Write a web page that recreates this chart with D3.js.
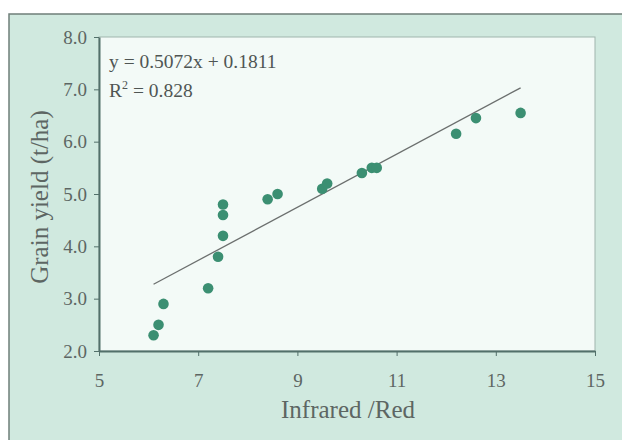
<!DOCTYPE html>
<html>
<head>
<meta charset="utf-8">
<style>
  body { margin: 0; background: #fff; }
  svg { display: block; }
  .tick text { font-family: "Liberation Serif", "DejaVu Serif", serif; fill: #5d6663; }
  .axis path, .axis line { stroke: #52706a; }
</style>
</head>
<body>
<svg width="622" height="440"></svg>
<script src="https://cdn.jsdelivr.net/npm/d3@7"></script>
<script>
// ratio values and grain yield
var ratio = [6.1, 6.2, 6.3, 7.2, 7.4, 7.5, 7.5, 7.5, 8.4, 8.6, 9.5, 9.6, 10.3, 10.5, 10.6, 12.2, 12.6, 13.5];
var yieldT = [2.3, 2.5, 2.9, 3.2, 3.8, 4.2, 4.6, 4.8, 4.9, 5.0, 5.1, 5.2, 5.4, 5.5, 5.5, 6.15, 6.45, 6.55];
var xTicks = [5, 7, 9, 11, 13, 15];
var yTicks = [2, 3, 4, 5, 6, 7, 8];
var slope = 0.5072, intercept = 0.1811;
var fitRange = [6.1, 13.5];

var margin = {top: 37, right: 27, bottom: 89, left: 99},
    width = 622 - margin.left - margin.right,
    height = 440 - margin.top - margin.bottom;

var svg = d3.select("svg");

// outer frame, runs off the right and bottom edges
svg.append("rect")
    .attr("x", 9).attr("y", 14)
    .attr("width", 640).attr("height", 460)
    .attr("fill", "#d0e9df")
    .attr("stroke", "#6f7f7a")
    .attr("stroke-width", 1.5);

var g = svg.append("g")
    .attr("transform", "translate(" + margin.left + "," + margin.top + ")");

var x = d3.scaleLinear().domain([5, 15]).range([0, width]);
var y = d3.scaleLinear().domain([2, 8]).range([height, 0]);

// plot area
g.append("rect")
    .attr("width", width).attr("height", height)
    .attr("fill", "#f3faf7")
    .attr("stroke", "#9fb5ad")
    .attr("stroke-width", 1);

g.append("g")
    .attr("class", "axis")
    .attr("transform", "translate(0," + height + ")")
    .call(d3.axisBottom(x).tickValues(xTicks).tickSize(5).tickSizeOuter(0).tickPadding(18))
    .call(function(a) {
      a.select(".domain").attr("stroke-width", 2);
      a.selectAll(".tick text").attr("font-size", 19);
    });

g.append("g")
    .attr("class", "axis")
    .call(d3.axisLeft(y).tickValues(yTicks).tickFormat(d3.format(".1f")).tickSize(5).tickSizeOuter(0).tickPadding(7))
    .call(function(a) {
      a.select(".domain").attr("stroke-width", 2);
      a.selectAll(".tick text").attr("font-size", 19);
    });

// trend line
g.append("line")
    .attr("x1", x(fitRange[0])).attr("y1", y(slope * fitRange[0] + intercept))
    .attr("x2", x(fitRange[1])).attr("y2", y(slope * fitRange[1] + intercept))
    .attr("stroke", "#6b6f6e")
    .attr("stroke-width", 1.3);

g.selectAll("circle")
    .data(ratio)
    .enter().append("circle")
    .attr("cx", function(d) { return x(d); })
    .attr("cy", function(d, i) { return y(yieldT[i]); })
    .attr("r", 5.3)
    .attr("fill", "#3b8f72");

// equation
var eq = g.append("text")
    .attr("x", 10).attr("y", 31)
    .attr("font-family", "Liberation Serif, serif")
    .attr("font-size", 19.5)
    .attr("fill", "#4f5553")
    .text("y = 0.5072x + 0.1811");
var r2 = g.append("text")
    .attr("x", 10).attr("y", 60)
    .attr("font-family", "Liberation Serif, serif")
    .attr("font-size", 19.5)
    .attr("fill", "#4f5553");
r2.append("tspan").text("R");
r2.append("tspan").attr("dy", -8).attr("font-size", 12).text("2");
r2.append("tspan").attr("dy", 8).text(" = 0.828");

// axis titles
svg.append("text")
    .attr("x", 348)
    .attr("y", 418)
    .attr("text-anchor", "middle")
    .attr("font-family", "Liberation Serif, serif")
    .attr("font-size", 25)
    .attr("fill", "#5d6663")
    .text("Infrared /Red");

svg.append("text")
    .attr("transform", "translate(48,197) rotate(-90)")
    .attr("text-anchor", "middle")
    .attr("font-family", "Liberation Serif, serif")
    .attr("font-size", 25)
    .attr("fill", "#5d6663")
    .text("Grain yield (t/ha)");
</script>
</body>
</html>
